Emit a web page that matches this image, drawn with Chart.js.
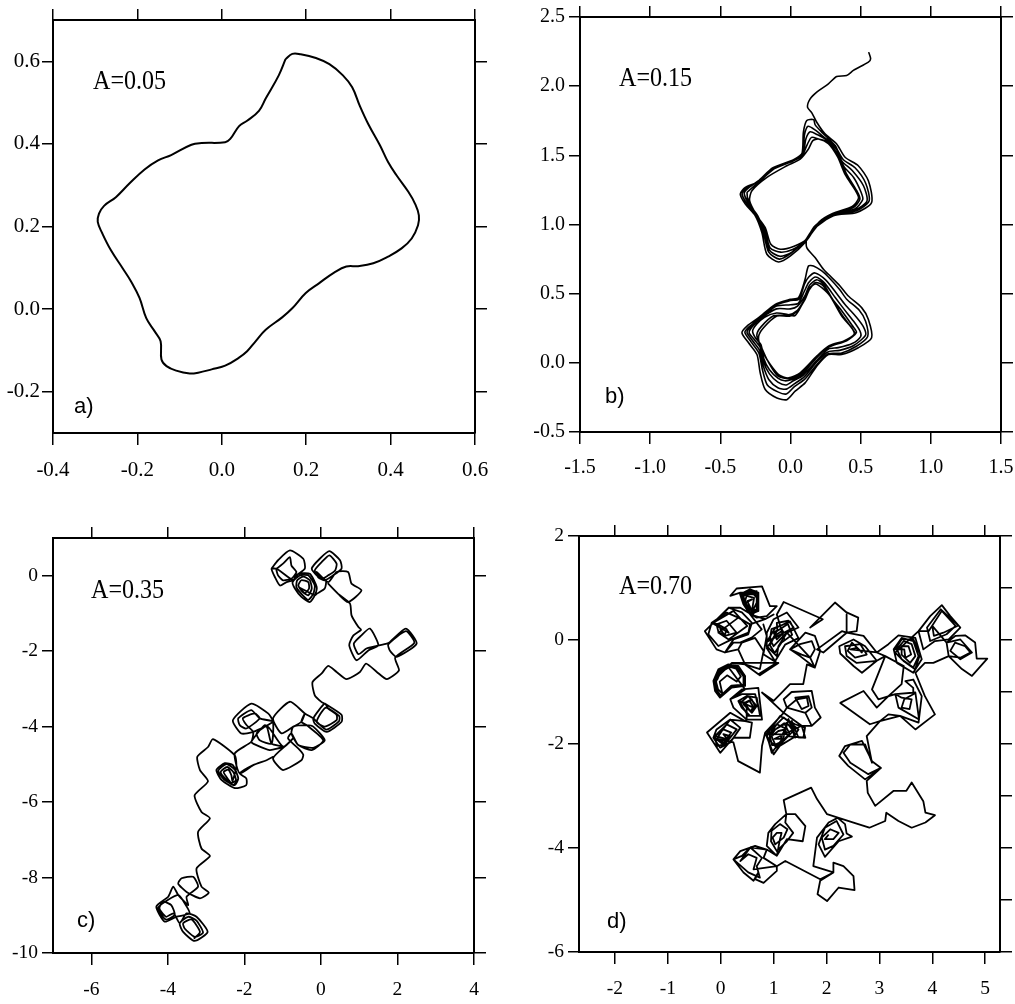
<!DOCTYPE html>
<html>
<head>
<meta charset="utf-8">
<title>Trajectories</title>
<script src="https://cdn.jsdelivr.net/npm/chart.js@4/dist/chart.umd.min.js"></script>
<style>
  html, body { margin: 0; padding: 0; background: #fff; }
  #page { position: relative; width: 1015px; height: 1004px; overflow: hidden; }
  canvas { position: absolute; }
</style>
</head>
<body>
<div id="page">
  <canvas id="panelA" width="505" height="490" style="left:0;top:0"></canvas>
  <canvas id="panelB" width="530" height="490" style="left:505px;top:0"></canvas>
  <canvas id="panelC" width="505" height="509" style="left:0;top:495px"></canvas>
  <canvas id="panelD" width="510" height="509" style="left:505px;top:495px"></canvas>
</div>
<script>
// values, [x, y]
const pathA = [[.151,.605],[.167,.618],[.187,.617],[.223,.608],[.255,.593],[.287,.566],[.309,.537],[.327,.492],[.347,.448],[.375,.396],[.394,.356],[.414,.324],[.442,.284],[.458,.255],[.467,.227],[.465,.203],[.45,.171],[.426,.147],[.394,.127],[.359,.111],[.323,.104],[.295,.103],[.267,.089],[.231,.063],[.199,.039],[.167,.002],[.143,-.02],[.104,-.05],[.08,-.078],[.06,-.102],[.04,-.118],[.008,-.137],[-.024,-.146],[-.056,-.154],[-.076,-.156],[-.108,-.149],[-.131,-.138],[-.143,-.122],[-.145,-.078],[-.159,-.054],[-.179,-.022],[-.195,.027],[-.215,.067],[-.235,.099],[-.263,.143],[-.283,.183],[-.294,.211],[-.291,.231],[-.279,.25],[-.251,.271],[-.219,.304],[-.183,.338],[-.151,.36],[-.12,.373],[-.072,.398],[-.048,.402],[.008,.404],[.02,.412],[.041,.443],[.06,.456],[.088,.48],[.104,.51],[.135,.566],[.151,.605]];

const pathB = [[.557,2.246],[.571,2.198],[.555,2.174],[.448,2.114],[.4,2.077],[.329,2.07],[.27,2.017],[.187,1.957],[.14,1.908],[.121,1.848],[.152,1.807],[.187,1.739],[.246,1.655],[.329,1.582],[.389,1.486],[.483,1.425],[.555,1.316],[.578,1.159],[.472,1.087],[.306,1.063],[.164,.966],[.104,.87],[0,.773],[-.085,.729],[-.168,.785],[-.204,.942],[-.251,1.063],[-.322,1.147],[-.358,1.22],[-.322,1.268],[-.239,1.304],[-.121,1.401],[.021,1.461],[.081,1.51],[.092,1.667],[.116,1.751],[.164,1.758],
  [.176,1.72],[.23,1.66],[.31,1.58],[.375,1.47],[.46,1.41],[.535,1.3],[.56,1.17],[.47,1.1],[.31,1.07],[.17,.98],[.105,.885],[0,.79],[-.08,.75],[-.155,.8],[-.195,.95],[-.24,1.06],[-.31,1.15],[-.345,1.22],[-.32,1.26],[-.235,1.31],[-.12,1.405],[.02,1.465],[.085,1.52],[.1,1.65],[.125,1.71],
  [.18,1.68],[.24,1.63],[.32,1.57],[.365,1.46],[.44,1.39],[.52,1.28],[.545,1.17],[.46,1.105],[.31,1.07],[.175,.99],[.11,.89],[.01,.8],[-.075,.77],[-.15,.815],[-.19,.96],[-.235,1.065],[-.3,1.155],[-.33,1.225],[-.305,1.26],[-.23,1.315],[-.125,1.41],[.025,1.47],[.09,1.525],[.11,1.62],[.14,1.67],
  [.19,1.65],[.26,1.61],[.33,1.54],[.38,1.42],[.45,1.34],[.5,1.24],[.515,1.18],[.455,1.11],[.31,1.075],[.19,.995],[.115,.885],[.015,.82],[-.07,.8],[-.145,.83],[-.185,.965],[-.237,1.065],[-.295,1.16],[-.31,1.23],[-.29,1.25],[-.2,1.33],[-.1,1.415],[.04,1.47],[.085,1.5],[.12,1.58],[.15,1.63],
  [.199,1.618],[.27,1.594],[.341,1.498],[.4,1.365],[.472,1.244],[.495,1.184],[.448,1.123],[.306,1.075],[.211,1.014],[.116,.894],[.021,.841],[-.073,.821],[-.14,.857],[-.18,.978],[-.239,1.063],[-.291,1.171],[-.275,1.244],[-.168,1.341],[-.026,1.425],[.069,1.473],[.128,1.546],[.159,1.606],[.199,1.618],[.27,1.585],[.335,1.49],[.39,1.36],[.46,1.25],[.485,1.19],[.44,1.13],[.3,1.08],[.205,1.02],[.116,.894],
  [.116,.833],[.175,.761],[.235,.676],[.27,.64],[.353,.556],[.412,.483],[.507,.399],[.555,.314],[.578,.181],[.483,.109],[.365,.06],[.27,.06],[.187,-.024],[.104,-.145],[.033,-.205],[-.026,-.266],[-.097,-.254],[-.18,-.193],[-.216,-.072],[-.239,.06],[-.299,.145],[-.346,.217],[-.31,.266],[-.227,.326],[-.109,.423],[-.002,.459],[.057,.471],[.104,.604],[.128,.7],[.164,.7],[.223,.664],
  [.27,.62],[.35,.53],[.4,.46],[.49,.38],[.535,.3],[.55,.19],[.47,.12],[.36,.07],[.27,.065],[.19,-.01],[.1,-.12],[.03,-.17],[-.03,-.225],[-.09,-.21],[-.165,-.16],[-.2,-.05],[-.225,.07],[-.28,.15],[-.325,.22],[-.295,.26],[-.215,.325],[-.1,.42],[0,.45],[.06,.46],[.1,.57],[.13,.62],[.175,.65],
  [.25,.6],[.33,.5],[.39,.42],[.47,.33],[.52,.26],[.535,.2],[.45,.125],[.35,.09],[.27,.08],[.19,.01],[.1,-.1],[.03,-.15],[-.03,-.19],[-.09,-.18],[-.155,-.12],[-.195,-.02],[-.22,.09],[-.27,.16],[-.31,.22],[-.28,.265],[-.205,.33],[-.1,.41],[0,.42],[.055,.43],[.1,.52],[.13,.58],[.18,.62],
  [.24,.58],[.32,.47],[.38,.39],[.45,.3],[.495,.23],[.5,.19],[.44,.14],[.34,.11],[.27,.1],[.19,.02],[.09,-.09],[.02,-.13],[-.03,-.16],[-.09,-.14],[-.15,-.08],[-.19,0],[-.215,.11],[-.26,.17],[-.295,.22],[-.265,.27],[-.2,.33],[-.1,.39],[0,.39],[.05,.41],[.105,.49],[.135,.56],[.185,.6],
  [.235,.57],[.3,.46],[.37,.37],[.44,.27],[.47,.22],[.4,.16],[.3,.125],[.25,.1],[.18,.03],[.08,-.085],[.01,-.12],[-.04,-.13],[-.09,-.11],[-.15,-.05],[-.19,.03],[-.21,.13],[-.25,.18],[-.27,.23],[-.24,.28],[-.185,.33],[-.1,.36],[-.02,.35],[.03,.34],[.06,.38],[.105,.47],[.135,.53],[.18,.58],
  [.23,.56],[.29,.47],[.365,.35],[.43,.26],[.46,.21],[.385,.16],[.28,.125],[.19,.05],[.075,-.08],[-.01,-.115],[-.09,-.095],[-.16,.01],[-.21,.12],[-.24,.2],[-.21,.26],[-.12,.34],[-.02,.345],[.05,.38],[.1,.46],[.135,.54],[.18,.57],
  [.223,.543],[.282,.483],[.365,.338],[.436,.254],[.453,.205],[.377,.157],[.27,.121],[.187,.048],[.069,-.072],[-.014,-.109],[-.085,-.085],[-.168,.024],[-.216,.121],[-.227,.193],[-.192,.254],[-.097,.338],[-.002,.338],[.057,.386],[.104,.459],[.14,.543],[.175,.58]];

const pathC = [[-1.29,.19],[-1.12,.41],[-.81,.67],[-.46,.45],[-.42,.19],[-.64,.01],[-.72,-.12],[-.9,-.17],[-1.07,-.26],[-1.2,-.04],[-1.29,.19],[-1.16,.19],[-.99,.32],[-.81,.49],[-.77,.27],[-.64,.1],[-.77,-.08],[-.99,-.12],[-1.12,.01],[-1.16,.19],[-.72,-.12],
  [-.59,.05],[-.29,.05],[-.11,-.3],[-.16,-.52],[-.29,-.7],[-.51,-.56],[-.68,-.34],[-.74,-.17],[-.55,.01],[-.33,.01],[-.16,-.26],[-.2,-.48],[-.33,-.64],[-.51,-.48],[-.64,-.3],[-.62,-.12],[-.46,-.02],[-.29,-.12],[-.24,-.34],[-.33,-.52],[-.48,-.43],[-.59,-.26],[-.51,-.12],[-.33,-.17],[-.31,-.34],[-.42,-.46],[-.55,-.32],[-.16,-.52],
  [-.11,-.48],[.1,-.34],[.13,-.12],[-.11,.01],[-.24,.19],[-.03,.45],[.22,.65],[.5,.41],[.54,.19],[.32,.01],[.1,-.12],[-.07,-.04],[-.16,.14],[.02,.36],[.22,.54],[.41,.32],[.37,.14],[.19,.01],[.02,-.08],[-.11,.1],
  [.19,-.17],[.41,.1],[.71,.1],[.8,-.21],[1.06,-.39],[.71,-.7],[.45,-.48],[.19,-.21],[.45,-.48],[.76,-.74],[.8,-1.05],[.98,-1.36],[1.05,-1.43],
  [.85,-1.58],[.74,-1.84],[.93,-2.24],[1.24,-1.98],[1.5,-1.84],[1.28,-1.4],[1.06,-1.58],[.86,-1.8],[.98,-2.08],[1.19,-1.93],[1.46,-1.86],[1.72,-1.8],
  [1.8,-1.76],[2.22,-1.4],[2.5,-1.8],[1.98,-2.15],[1.8,-1.98],[1.76,-1.82],[2.22,-1.47],[2.44,-1.78],[1.94,-2.17],
  [2.04,-2.51],[1.72,-2.74],[1.46,-2.55],[1.18,-2.33],[1.02,-2.55],[.67,-2.74],[.41,-2.55],[.19,-2.39],[.02,-2.59],[-.22,-2.82],[-.16,-3.17],[.02,-3.35],
  [.1,-3.39],[.54,-3.69],[.54,-3.87],[.15,-4.14],[-.16,-3.92],[-.2,-3.78],[.1,-3.39],[.19,-3.52],[.41,-3.69],[.41,-3.83],[.1,-4],[-.11,-3.87],[.12,-3.5],[.48,-3.72],[.47,-3.86],[.14,-4.08],[-.13,-3.85],[-.2,-3.78],
  [-.42,-3.65],[-.81,-3.34],[-1.25,-3.78],[-1.03,-4.18],[-.72,-4],[-.51,-3.87],[-.42,-3.65],[-.51,-3.87],
  [-.37,-3.96],[.06,-4.36],[-.24,-4.62],[-.59,-4.49],[-.77,-4.18],[-.72,-4],[-.37,-3.96],[-.2,-4],[.1,-4.36],[-.2,-4.56],[-.59,-4.49],[-.77,-4.18],
  [-.86,-4.31],[-.55,-4.62],[-.46,-4.75],[-.51,-4.89],[-.99,-5.15],[-1.25,-4.84],[-.86,-4.45],[-.72,-4.3],[-.99,-4.53],
  [-1.34,-4.05],[-1.47,-3.96],[-1.82,-4.4],[-1.77,-4.45],[-1.34,-4.62],[-.99,-4.53],[-1.29,-4.45],[-1.42,-4],[-1.68,-4.18],[-1.6,-4.36],[-1.29,-4.45],[-1.25,-3.87],
  [-1.38,-3.65],[-1.82,-3.39],[-2.3,-3.83],[-2.08,-4.18],[-1.77,-4.14],[-1.25,-3.87],[-1.6,-3.78],[-1.82,-3.56],[-2.16,-3.78],[-2.12,-3.96],[-1.95,-4.05],[-1.6,-3.78],[-1.73,-3.65],[-2.04,-3.78],[-1.95,-3.95],[-1.77,-4.14],[-1.82,-4.4],
  [-2.25,-4.71],[-2.12,-5.24],[-1.77,-5.02],[-1.42,-4.89],[-1.25,-4.8],[-1.42,-4.89],[-1.77,-5.02],[-2.12,-5.24],[-1.95,-5.37],[-1.95,-5.55],[-2.25,-5.63],[-2.6,-5.41],[-2.73,-5.15],[-2.51,-4.97],[-2.3,-5.02],[-2.16,-5.37],[-2.25,-5.55],[-2.53,-5.4],[-2.68,-5.17],[-2.47,-4.99],[-2.25,-5.14],[-2.16,-5.38],[-2.29,-5.55],[-2.48,-5.4],[-2.62,-5.2],[-2.45,-5.07],[-2.29,-5.2],[-2.22,-5.42],[-2.34,-5.49],[-2.47,-5.33],[-2.54,-5.2],[-2.42,-5.14],[-2.34,-5.29],[-2.31,-5.44],[-2.21,-5.07],
  [-2.25,-4.76],[-2.82,-4.33],[-2.95,-4.54],[-3.23,-4.8],[-3.16,-5.15],[-2.95,-5.45],[-3.3,-5.82],[-3.12,-6.26],[-2.9,-6.43],[-3.21,-6.79],[-3.12,-7.23],[-2.9,-7.43],[-3.25,-7.76],[-3.12,-8.24],[-2.93,-8.4],[-3.16,-8.55],[-3.51,-8.38],[-3.73,-8.16],[-3.64,-8.02],[-3.34,-7.98],[-3.21,-8.24],
  [-3.51,-8.51],[-3.47,-8.73],[-3.73,-8.46],[-3.86,-8.24],[-3.99,-8.51],[-4.3,-8.77],[-4.08,-9.17],[-3.78,-9.04],[-3.43,-8.95],[-3.56,-8.68],[-3.73,-8.46],[-4.25,-8.79],[-4.06,-9.11],[-3.82,-8.99],[-3.91,-8.73],[-4.12,-8.64],[-4.22,-8.8],[-4.17,-8.91],[-4.04,-9.04],[-3.85,-8.95],
  [-3.69,-9.21],[-3.51,-8.95],[-3.25,-9.04],[-2.96,-9.44],[-3.3,-9.68],[-3.6,-9.44],[-3.69,-9.21],[-3.47,-9.04],[-3.25,-9.14],[-3.08,-9.46],[-3.3,-9.57],[-3.56,-9.35],[-3.6,-9.21],[-3.38,-9.11],[-3.16,-9.44],[-3.32,-9.62]];

const pathD = [[.365,.879],[.554,.975],[.712,.911],[.712,.558],[.554,.494],[.428,.687],[.365,.879],[.428,.847],[.585,.911],[.68,.847],[.68,.59],[.585,.558],[.46,.72],[.428,.847],[.4,.86],[.55,.94],[.7,.88],[.7,.57],[.57,.52],[.44,.7],
  [.59,.78],[.5,.75],[.59,.56],[.63,.81],[.49,.85],[.46,.75],[.57,.49],[.71,.78],[.62,.88],[.4,.88],[.43,.72],[.59,.46],[.71,.65],[.68,.94],[.37,.91],[.18,.85],[.3,.99],[.78,1.03],[.93,.65],[1.06,.65],[.87,.46],[.68,.43],[.37,.62],
  [.15,.62],[-.3,.17],[-.08,-.18],[.08,-.24],[.24,.01],[.52,.11],[.59,.33],[.4,.53],[.15,.62],[-.14,.33],[.24,.56],[.5,.27],[.15,.01],[-.04,.14],[-.08,.3],[.11,.37],[.3,.14],[.08,.08],[-.01,.21],[.08,.24],[.15,.14],
  [-.171,.334],[.113,.527],[.333,.43],[.554,.3],[.523,.142],[.207,.013],[-.045,-.115],[-.234,.109],[-.171,.334],[-.045,.3],[.113,.205],[.081,.109],[-.045,.142],[.333,.43],[.554,.3],[.838,.4],[1,.49],[.838,.4],[.554,.494],[.775,.205],[.585,.045],[.365,-.05],[.24,-.05],[.08,-.24],
  [.33,-.18],[.4,-.05],[.65,.04],[.81,-.21],[.74,-.56],[.37,-.44],[.21,-.44],[1.09,-.44],[.74,-.68],[.46,-.47],[.33,-.18],[.46,-.47],[.712,-.66],[1.059,-.436],[.806,-.275],[.869,.077],[.806,.3],[.869,.077],[.806,-.275],[1.059,-.436],[.712,-.66],[.46,-.47],
  [.21,-.44],[-.139,-.788],[-.045,-.564],[.144,-.468],[.333,-.5],[.46,-.692],[.46,-.884],[.207,-.916],[-.013,-1.108],[-.108,-.98],[-.139,-.788],[-.09,-.76],[-.02,-.58],[.15,-.49],[.31,-.53],[.43,-.7],[.43,-.86],[.2,-.88],[0,-1.07],[-.08,-.96],[-.11,-.79],[-.06,-.75],[0,-.6],[.16,-.51],[.29,-.55],[.38,-.7],[.3,-.8],[.12,-.68],[-.02,-.8],[.03,-1.03],[-.05,-.95],[-.09,-.8],[0,-.62],[.15,-.53],[.46,-.95],
  [.18,-1.14],[.4,-.95],[.71,-.92],[.78,-1.53],[.49,-1.53],[.24,-1.3],[.18,-1.14],[.4,-1.04],[.65,-1.04],[.75,-1.46],[.52,-1.46],[.37,-1.21],[.52,-1.08],[.68,-1.27],[.59,-1.4],[.43,-1.24],[.55,-1.17],[.62,-1.3],
  [.333,-1.173],[.491,-1.077],[.68,-1.109],[.743,-1.46],[.554,-1.46],[.396,-1.3],[.333,-1.173],[.46,-1.205],[.585,-1.14],[.649,-1.27],[.585,-1.397],[.491,-1.3],[.46,-1.205],[.54,-1.17],[.62,-1.29],[.56,-1.37],[.49,-1.27],[.49,-1.53],
  [.46,-1.56],[.18,-1.4],[-.26,-1.78],[-.01,-2.17],[.24,-1.88],[.55,-1.88],[.59,-1.59],[.46,-1.56],[.18,-1.53],[-.08,-1.72],[-.14,-1.88],[-.01,-2.07],[.18,-1.97],[.37,-1.69],[.18,-1.53],[.02,-1.75],[-.08,-1.91],[.05,-2.01],[.18,-1.85],[.05,-1.81],[.13,-1.91],
  [-.108,-1.846],[.113,-1.622],[.302,-1.718],[.081,-2.006],[-.076,-2.038],[-.108,-1.846],[.05,-1.72],[.2,-1.78],[.05,-1.97],[-.05,-1.9],
  [.24,-1.97],[.33,-2.33],[.74,-2.55],[.78,-2.04],[.84,-1.78],[1.19,-1.4],[1.53,-1.65],[1.6,-1.88],[1.25,-1.85],[1,-2.2],[.84,-1.78],[.96,-1.72],[1.19,-1.49],[1.47,-1.72],[1.37,-1.88],[1.06,-2.07],[.9,-1.91],[1.03,-1.72],[1.25,-1.59],[1.37,-1.75],[1.19,-1.94],[1.03,-2.01],[.96,-1.85],[1.09,-1.75],[1.22,-1.72],[1.25,-1.81],
  [.869,-1.814],[1.122,-1.46],[1.406,-1.62],[1.594,-1.685],[1.563,-1.878],[1.469,-1.878],[1.342,-1.557],[1.406,-1.878],[1.28,-1.52],[1.185,-1.878],[.964,-2.167],[.869,-1.814],[1.03,-1.72],[1.2,-1.6],[1.3,-1.8],[1.1,-2.02],[.97,-2.02],[.92,-1.82],[1.06,-1.62],[1.22,-1.7],[1.13,-1.9],[1.02,-1.9],[1.53,-1.65],
  [1.72,-1.65],[1.89,-1.49],[1.78,-1.3],[1.72,-.98],[1.34,-1],[1.19,-1.14],[1.25,-1.3],[1.6,-1.4],[1.72,-1.65],[1.6,-1.4],[1.72,-1.3],[1.66,-1.08],[1.41,-1.11],[1.53,-1.33],[1.66,-1.27],[1.63,-1.11],[1.44,-1.14],[1.25,-1.3],
  [1.19,-1.4],[.78,-1.01],[1,-1.17],[1.31,-.85],[1.56,-.85],[1.63,-.47],[1.78,-.53],[1.88,-.21],[1.78,.08],[1.6,.14],[1.31,-.18],[1.5,-.31],[1.78,-.53],[1.69,-.34],[1.78,-.18],[1.72,-.02],[1.5,-.08],[1.31,-.18],[1.53,-.28],[1.69,-.34],
  [1.25,.14],[1.09,-.12],[1.06,-.31],[.87,-.12],[.87,.14],[1,.4],[1.25,.53],[1.47,.24],[1.25,.14],[1.15,.04],[1,-.12],[.93,.01],[.96,.21],[1.12,.27],[1.19,.14],[1.06,.01],[1,.14],[1.07,.19],[1.06,.33],[1.28,.37],[1.38,.24],
  [.869,-.036],[1.027,.227],[1.31,.357],[1.469,.037],[1.216,-.09],[1.027,-.41],[.869,-.155],[.95,-.04],[1.06,.17],[1.27,.31],[1.35,.1],[1.15,-.05],[1.02,-.25],[.93,-.1],[1.02,.08],[1.15,.17],[1.2,.02],[1.06,.49],
  [1.19,.73],[1.93,.4],[1.69,.24],[2.16,.72],[2.38,.53],[2.6,.43],[2.57,.17],[2.38,.14],[2.38,.49],[2.38,.14],[1.94,-.24],[1.82,-.18],[2.29,.17],
  [2.38,.14],[2.7,.08],[2.95,-.24],[3.11,-.31],[2.95,-.4],[2.67,-.63],[2.51,-.5],[2.26,-.26],[2.24,-.12],[2.51,.01],[2.73,-.12],[2.95,-.4],[2.57,-.44],[2.38,-.31],[2.35,-.12],[2.64,-.08],[2.76,-.28],[2.54,-.34],[2.4,-.21],[2.48,-.05],[2.67,-.24],[2.57,-.15],[2.45,-.18],
  [2.95,-.24],[3.17,-.08],[3.36,.09],[3.68,.04],[3.8,-.37],[3.64,-.63],[3.33,-.44],[3.27,-.18],[3.42,.04],[3.64,-.02],[3.74,-.31],[3.64,-.53],[3.42,-.37],[3.33,-.18],[3.46,-.02],[3.61,-.08],[3.68,-.31],[3.58,-.44],[3.42,-.28],[3.42,-.12],[3.55,-.12],[3.6,-.28],[3.49,-.34],[3.47,-.18],
  [3.297,-.179],[3.423,.013],[3.643,.013],[3.77,-.275],[3.675,-.564],[3.455,-.403],[3.297,-.243],[3.74,.17],
  [3.96,.46],[4.18,.67],[4.34,.46],[4.53,.24],[4.31,.01],[4.05,-.02],[3.83,-.18],[3.74,.17],[3.93,.17],[4.18,.56],[4.44,.27],[4.27,.11],[3.96,-.02],[3.9,.24],[4.16,.59],[4.49,.28],[4.21,.14],[4.03,.08],[4,.27],[4.27,-.05],
  [4.44,.08],[4.62,.09],[4.81,-.05],[4.84,-.36],[5.04,-.36],[4.75,-.69],[4.56,-.56],[4.31,-.31],[4.27,-.05],[4.53,.01],[4.75,-.24],[4.53,-.37],[4.34,-.21],[4.43,-.05],[4.62,-.12],[4.72,-.24],[4.53,-.34],[4.31,-.31],
  [4.02,-.44],[3.86,-.44],[3.68,-.63],[3.86,-1.08],[4.05,-1.43],[3.68,-1.72],[3.39,-1.46],[3.17,-1.43],[3.01,-1.56],[2.82,-1.62],[2.26,-1.21],[2.7,-.98],[2.95,-1.3],[3.17,-1.08],[3.42,-.85],[3.46,-.5],[3.11,-.31],[2.86,-.95],[2.98,-1.14],[3.3,-1.04],
  [3.68,-1.01],[3.75,-1.53],[3.36,-1.3],[3.3,-1.04],[3.42,-1.11],[3.61,-1.14],[3.57,-1.33],[3.42,-1.3],[3.47,-1.14],[3.65,-1.04],[3.64,-.92],[3.49,-.79],[3.64,-.76],[3.8,-1.08],[3.74,-1.59],[3.39,-1.46],[3.01,-1.56],[2.76,-1.85],
  [2.86,-2.36],[2.73,-2.01],[2.45,-2.01],[2.32,-2.17],[2.45,-2.36],[2.79,-2.58],[3.03,-2.46],[2.86,-2.33],[2.67,-1.94],[2.35,-2.04],[2.24,-2.23],[2.41,-2.42],[2.73,-2.68],[3.03,-2.46],
  [2.76,-2.71],[2.78,-2.94],[2.92,-3.19],[3.27,-2.9],[3.51,-2.9],[3.61,-2.74],[3.83,-3.1],[3.87,-3.32],[4.05,-3.37],[3.87,-3.51],[3.61,-3.61],[3.36,-3.48],[3.13,-3.32],[3.11,-3.48],[2.81,-3.61],[2.51,-3.51],[2.23,-3.42],[2.01,-3.35],[1.82,-3.06],[1.71,-2.84],[1.19,-3.08],[1.24,-3.35],
  [1.41,-3.35],[1.6,-3.58],[1.55,-3.87],[1.25,-3.83],[1.06,-4.15],[.87,-3.96],[.9,-3.71],[1.03,-3.54],[1.24,-3.35],[1.22,-3.51],[1.37,-3.71],[1.25,-3.87],[1.06,-4.06],[.95,-3.87],[.96,-3.67],[1.12,-3.54],[1.26,-3.64],[1.19,-3.8],[1.03,-3.93],[.98,-3.8],[1.06,-3.71],[1.15,-3.71],[1.12,-3.83],[1.06,-4.15],
  [.87,-4.03],[.65,-3.96],[.37,-4.06],[.24,-4.22],[.43,-4.47],[.62,-4.63],[.71,-4.47],[.65,-4.6],[.81,-4.67],[1.06,-4.44],[1.06,-4.35],[.81,-4.19],[.87,-4.03],[.56,-3.99],[.4,-4.15],[.24,-4.22],[.52,-4.47],[.74,-4.57],[.68,-4.35],[.78,-4.19],[.56,-3.99],[.37,-4.25],[.52,-4.12],[.68,-4.19],[.62,-4.41],
  [1.06,-4.35],[1.22,-4.25],[1.88,-4.6],[2.13,-4.47],[2.13,-4.28],[2.32,-4.35],[2.51,-4.54],[2.53,-4.81],[2.23,-4.76],[2.01,-5.02],[1.83,-4.89],[1.88,-4.63],[2.13,-4.47],[1.75,-4.35],[1.82,-3.8],
  [2.04,-3.51],[2.21,-3.42],[2.35,-3.54],[2.38,-3.72],[2.48,-3.78],[2.23,-3.87],[1.97,-4.17],[1.85,-3.93],[1.97,-3.61],[2.19,-3.48],[2.32,-3.74],[2.13,-3.96],[1.97,-4.03],[1.91,-3.8],[2.07,-3.64],[2.23,-3.71],[2.13,-3.83],[1.97,-3.83],[2.04,-3.74]];

const xTicksA = [-0.4, -0.2, 0, 0.2, 0.4, 0.6];
const xLabelsA = ['-0.4', '-0.2', '0.0', '0.2', '0.4', '0.6'];
const yTicksA = [-0.2, 0, 0.2, 0.4, 0.6];
const yLabelsA = ['-0.2', '0.0', '0.2', '0.4', '0.6'];

const xTicksB = [-1.5, -1, -0.5, 0, 0.5, 1, 1.5];
const xLabelsB = ['-1.5', '-1.0', '-0.5', '0.0', '0.5', '1.0', '1.5'];
const yTicksB = [-0.5, 0, 0.5, 1, 1.5, 2, 2.5];
const yLabelsB = ['-0.5', '0.0', '0.5', '1.0', '1.5', '2.0', '2.5'];

const xTicksC = [-6, -4, -2, 0, 2, 4];
const xLabelsC = ['-6', '-4', '-2', '0', '2', '4'];
const yTicksC = [-10, -8, -6, -4, -2, 0];
const yLabelsC = ['-10', '-8', '-6', '-4', '-2', '0'];

const xTicksD = [-2, -1, 0, 1, 2, 3, 4, 5];
const xLabelsD = ['-2', '-1', '0', '1', '2', '3', '4', '5'];
const yTicksD = [-6, -4, -2, 0, 2];
const yLabelsD = ['-6', '-4', '-2', '0', '2'];
const rightTicksD = [-6, -5, -4, -3, -2, -1, 0, 1, 2];

const ink = '#000';

// A=... and a) etc, drawn on top of the chart
const captions = {
  id: 'captions',
  afterDraw(chart, args, opts) {
    const ctx = chart.ctx;
    ctx.save();
    ctx.fillStyle = ink;
    ctx.font = '28px "Liberation Serif"';
    ctx.translate(opts.titleX, opts.titleY);
    ctx.scale(0.86, 1);
    ctx.fillText(opts.title, 0, 0);
    ctx.restore();
    ctx.save();
    ctx.fillStyle = ink;
    ctx.font = '22px "Liberation Sans"';
    ctx.fillText(opts.tag, opts.tagX, opts.tagY);
    ctx.restore();
  }
};

function axis(position, min, max, tickValues, labels, size, tickLength, fontSize, pad) {
  return {
    type: 'linear',
    position: position,
    min: min,
    max: max,
    afterBuildTicks: s => { s.ticks = tickValues.map(v => ({ value: v })); },
    afterFit: s => {
      if (s.isHorizontal()) s.height = size; else s.width = size;
    },
    border: { display: true, color: ink, width: 2 },
    grid: { drawOnChartArea: false, drawTicks: true, tickLength: tickLength, tickWidth: 1.5, tickColor: ink, lineWidth: 1.5, color: ink },
    ticks: {
      display: !!labels,
      autoSkip: false,
      maxRotation: 0,
      minRotation: 0,
      padding: pad,
      color: ink,
      font: { family: '"Liberation Serif"', size: fontSize },
      callback: (v, i) => labels ? labels[i] : ''
    }
  };
}

function makePanel(id, path, p) {
  new Chart(document.getElementById(id), {
    type: 'scatter',
    data: {
      datasets: [{
        data: path.map(d => ({ x: d[0], y: d[1] })),
        showLine: true,
        fill: false,
        tension: p.tension,
        borderColor: ink,
        borderWidth: p.lineWidth,
        borderJoinStyle: 'round',
        pointRadius: 0
      }]
    },
    options: {
      responsive: false,
      animation: false,
      layout: { padding: 0 },
      plugins: {
        legend: { display: false },
        tooltip: { enabled: false },
        captions: p.caption
      },
      scales: {
        x: axis('bottom', p.xMin, p.xMax, p.xTicks, p.xLabels, p.bottom, 12, p.fontSize, p.xPad),
        xTop: Object.assign(axis('top', p.xMin, p.xMax, p.xTicks, null, p.top, 11, p.fontSize, 0), { axis: 'x' }),
        y: axis('left', p.yMin, p.yMax, p.yTicks, p.yLabels, p.left, 11, p.fontSize, p.yPad),
        yRight: Object.assign(axis('right', p.yMin, p.yMax, p.rightTicks, null, p.right, 12, p.fontSize, 0), { axis: 'y' })
      }
    },
    plugins: [captions]
  });
}

makePanel('panelA', pathA, {
  xMin: -0.4, xMax: 0.6, yMin: -0.3, yMax: 0.7,
  xTicks: xTicksA, xLabels: xLabelsA, yTicks: yTicksA, yLabels: yLabelsA, rightTicks: yTicksA,
  left: 53, right: 30, top: 20, bottom: 57,
  fontSize: 21, xPad: 13, yPad: 2, lineWidth: 2, tension: 0.4,
  caption: { title: 'A=0.05', titleX: 93, titleY: 89, tag: 'a)', tagX: 74, tagY: 413 }
});

makePanel('panelB', pathB, {
  xMin: -1.5, xMax: 1.5, yMin: -0.5, yMax: 2.5,
  xTicks: xTicksB, xLabels: xLabelsB, yTicks: yTicksB, yLabels: yLabelsB, rightTicks: yTicksB,
  left: 75, right: 34, top: 17, bottom: 58,
  fontSize: 20, xPad: 12, yPad: 4, lineWidth: 1.6, tension: 0.25,
  caption: { title: 'A=0.15', titleX: 114, titleY: 86, tag: 'b)', tagX: 100, tagY: 403 }
});

makePanel('panelC', pathC, {
  xMin: -7, xMax: 4, yMin: -10, yMax: 1,
  xTicks: xTicksC, xLabels: xLabelsC, yTicks: yTicksC, yLabels: yLabelsC, rightTicks: yTicksC,
  left: 53, right: 31, top: 43, bottom: 51,
  fontSize: 19.5, xPad: 13, yPad: 4, lineWidth: 1.8, tension: 0.2,
  caption: { title: 'A=0.35', titleX: 91, titleY: 103, tag: 'c)', tagX: 77, tagY: 432 }
});

makePanel('panelD', pathD, {
  xMin: -2.68, xMax: 5.28, yMin: -6, yMax: 2,
  xTicks: xTicksD, xLabels: xLabelsD, yTicks: yTicksD, yLabels: yLabelsD, rightTicks: rightTicksD,
  left: 74, right: 15, top: 41, bottom: 52,
  fontSize: 19.5, xPad: 13, yPad: 4, lineWidth: 1.8, tension: 0,
  caption: { title: 'A=0.70', titleX: 114, titleY: 99, tag: 'd)', tagX: 102, tagY: 433 }
});
</script>
</body>
</html>
